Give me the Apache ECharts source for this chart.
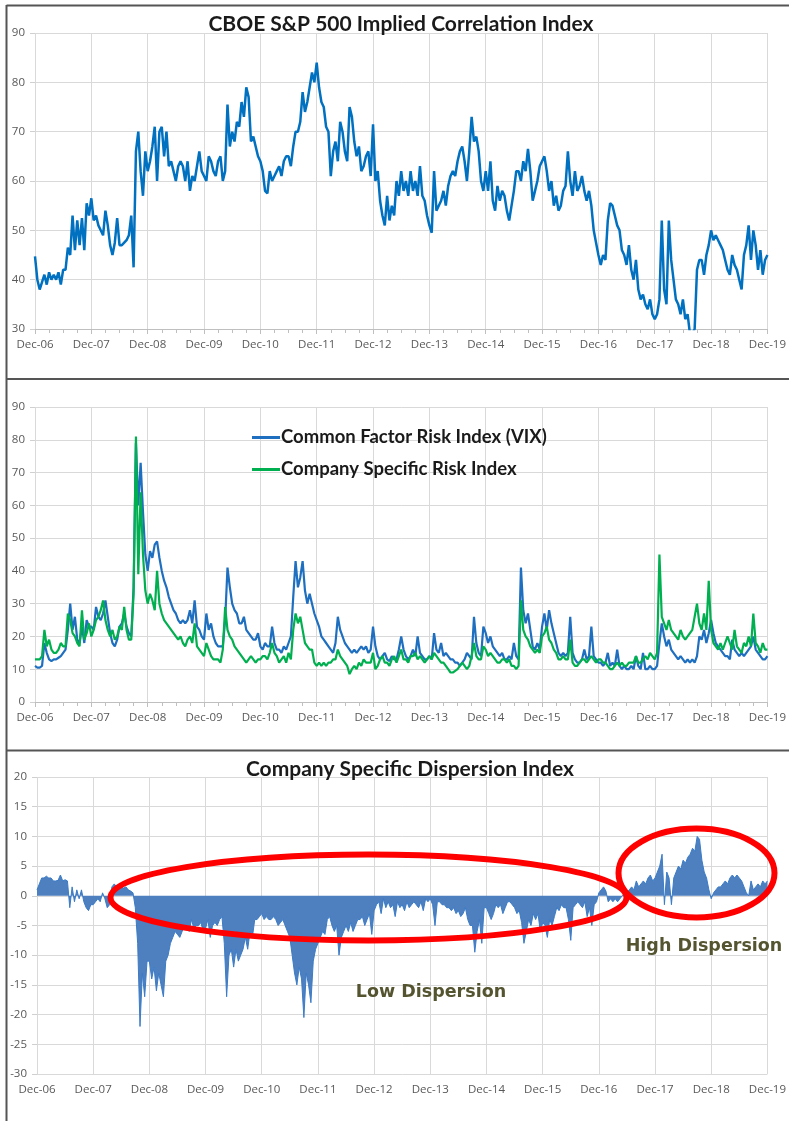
<!DOCTYPE html>
<html>
<head>
<meta charset="utf-8"/>
<script src="https://cdn.jsdelivr.net/npm/echarts/dist/echarts.min.js"></script>
<style>
html, body { margin: 0; padding: 0; background: #fff; }
#main { width: 789px; height: 1121px; }
</style>
</head>
<body>
<div id="main"></div>
<script>
// x axis: months since Dec-06, two readings per month
var xLabels = ['Dec-06', 'Dec-07', 'Dec-08', 'Dec-09', 'Dec-10', 'Dec-11', 'Dec-12',
               'Dec-13', 'Dec-14', 'Dec-15', 'Dec-16', 'Dec-17', 'Dec-18', 'Dec-19'];

// CBOE S&P 500 implied correlation
var corrVals = [
    44.7,40,38,39.5,41,39,41.5,40,41,40,41.5,39,42,42,46.5,45,53,46,52,47,52.5,46,55.5,53,
    56.5,52,53,51,50,49,54,51,47,45,47.5,52.5,47,47,47.5,48,49,53,42.5,66,70,62,57,66,
    62,64,67,71,60,70,71,65,70,63,64,62,60,63,64,63,60,64,58,61,60,63,66,62,
    61,60,65,64,62,61,64,65,60,62,75.5,67,70,68,72,71,76,73,79,77,68,69,67,65,
    64,62,58,57.5,62,60,61,62,63,61,64,65,65,63,67,70,70,72,78,74,76,79,82,80,
    84,79,76,75,71,70,61,66,68,64,72,70,66,64,75,73,68,65,67,62,63,65,66,61,
    71.5,60,62,56,53,51,57,52,55,53,60,57,62,58,60,57,62,58,60,57,63,57,56,53,
    51,49.5,62,54,55,56,58,55,59,61,62,61,64,66,67,64,60,66,73,68,69,66,60,58,
    62,58,64,56,54,59,56,58,57,54,52,55,58,62,62,60,64,62,66.5,62,56,58,60,63,
    64,65,62,58,60,55,57,54,55,58,59,66,60,57,62,58,59,61,58,56,58,55,50,47.5,
    45,43,45,44,52,55.5,55,53,51,50,46,45,43,47,42,40,44,38,36,37,35,34,36,33,
    32,33,36,52,38,35,52,44,40,36,35,33,36,32,33,29,29,30,42,44,44,41,45,47,
    50,48,49,48,47,46,44,42,41,45,43,42,40,38,45,47,51,44,50,47,42,46,41,44,
    45
];

// Common Factor Risk Index (VIX)
var vixVals = [
    11,10.5,10.5,11,18,15,13,12.5,13,13,13.5,14,
    15,16,22,30,22,26,19,18,23,18,25,23,
    23,22,29,26,25,27,31,26,21,18,17,19,
    23,24,27,23,21,20,35,79,60,73,58,45,
    40,46,44,48,49,44,40,37,35,32,30,28,
    27,25,24,25,24,25,28,24,31,23,22,20,
    19,27,22,24,20,18,17,17,17,25,41,35,
    30,28,27,24,24,26,22,21,20,19,19,21,
    17,16,18,17,17,23,18,16,16,15,17,16,
    18,20,32,43,35,38,43,34,30,33,30,27,
    25,23,20,19,18,17,16,15,18,26,22,20,
    18,17,16,15,16,15,16,17,16,17,15,16,
    23,17,14,13,14,15,13,12.5,14,13,13,16,
    20,16,14,13,14,16,14,20,15,14,13,13,
    14,13,21,16,15,18,14,15,14,13,13,12,
    12,11,12,13,15,14,13,26,18,15,14,23,
    21,18,20,17,16,15,14,15,13,13,14,13,
    18,14,13,41,28,24,27,22,17,16,18,16,
    23,27,22,28,24,21,18,15,14,15,14,15,
    26,15,13,12,12,13,16,13,14,23,14,13,
    12,12,11,12,15,11,12,11,16,11,10,11,
    10,10,11,10,14,11,10,15,10,10,11,10,
    10,11,18,24,20,17,19,16,15,14,13,14,
    13,12,13,12,13,12,14,20,19,22,18,21,
    25,21,18,17,16,15,14,14,13,19,16,15,
    14,15,14,15,16,17,20,16,15,14,13,13,
    14
];

// Company Specific Risk Index
var cspVals = [
    13,13,13,14,22,17,19,16,15,15,16,18,
    17,17,27,25,21,20,18,17,28,19,21,24,
    20,22,25,26,28,31,25,22,20,22,19,20,
    23,22,29,22,19,19,33,81,39,64,45,34,
    30,33,31,28,40,30,27,25,24,23,22,21,
    20,19,20,18,17,19,20,18,24,17,16,15,
    14,18,16,14,13,13,13,12,16,29,22,20,
    19,17,16,15,14,13,12,13,14,13,12,13,
    13,14,14,13,15,18,15,14,12,13,14,12,
    15,13,22,27,24,26,22,18,17,16,16,12,
    11,12,11,12,11,12,12,13,13,16,14,13,
    12,11,8.5,10,11,10,12,11,13,12,12,12,
    15,10,11,13,14,12,12,11,13,14,12,14,
    16,13,13,12,14,14,15,13,14,13,12,13,
    14,13,15,14,13,12,12,11,10,9,9,9.5,
    10,11,12,11,10,11,14,18,14,13,13,17,
    16,14,15,14,13,12,12,13,13,12,13,11,
    11,10,11,31,22,20,19,17,16,15,16,15,
    20,21,23,19,18,16,15,13,13,14,13,13,
    19,12,11,11,12,13,13,12,13,14,13,12,
    13,13,12,12,11,10,10,11,12,11,12,11,
    11,12,12,12,14,12,12,13,14,13,15,14,
    13,15,45,26,24,22,25,22,21,20,19,22,
    20,19,20,21,22,26,30,24,22,27,22,37,
    22,18,17,16,18,16,18,20,18,16,22,17,
    16,15,18,17,20,17,27,18,17,15,18,16,
    16
];

// Company Specific Dispersion Index
var dispVals = [
    1,2,3,3,3.3,3,3,2.5,2.5,2.6,3.5,2.5,
    2.7,2.5,-2,1.5,-1,1,-0.5,1,-1,-2,-2.5,-1.5,
    -1.5,-1,-0.5,-1,0.5,-0.5,-2,-1.5,1.5,2,1.5,1.8,
    1.5,1.3,1.5,1,0.8,0.5,-2,-8,-22,-13,-17,-11,
    -11,-14,-12,-16,-13,-15,-17,-11,-10,-8,-7,-6,
    -6.5,-7,-6,-5,-5.5,-6,-4,-5.5,-5,-5,-4.5,-6,
    -5.5,-4,-7,-5,-4.5,-5,-4,-3.5,-8,-17,-10,-9,
    -12,-9,-11,-10,-9,-7,-9,-6,-7,-4,-4,-3.5,
    -3,-4,-3.5,-4,-4,-3.5,-4,-5,-4.5,-4,-5,-6,
    -7,-10,-13,-15,-12,-14,-20.5,-13,-15,-18,-11,-9,
    -8,-7,-6,-6.5,-4,-3.5,-5,-6,-5,-10,-7,-6,
    -5,-6,-4.5,-6,-5,-4,-4,-3.5,-5,-4,-3,-6.5,
    -2.5,-1.5,-1,-3,-0.5,-2,-1,-2,-1.5,-3.5,-1,-2,
    -1.5,-2.5,-1,-2,-1.5,-1,-1.5,-2,-1,-2.5,-0.5,-1,
    -0.5,-1.5,-5,-1,-1,-1.5,-1.5,-2,-2,-2.5,-2,-3,
    -2.5,-3.5,-3,-2,-4,-5,-5,-9.5,-6,-4,-8,-2,
    -2,-3,-4,-3,-1.5,-2,-1.5,-3,-2,-1,-1,-1.5,
    -2,-3,-2.5,-4.5,-8,-6,-4,-5,-3,-4,-3,-6,
    -4.5,-5,-7,-4,-5,-3.5,-2,-2.5,-1.5,-2,-2,-4,
    -7.5,-2,-1.5,-1,-1.5,-2,-1,-3.5,-2,-5,-1.5,-1,
    0.5,1,1.5,0.8,-1,-0.5,-1,-0.5,-1,-0.5,0,0.5,
    0.5,1,1.5,1,2.5,1.5,2,2.5,2,3,3.5,2.5,
    3,4,5,7,-1.5,4,3,-1.5,3,4,5,4.5,
    6,5.5,6.5,7,8,7.5,10,9.5,6,4,3,1,
    -0.5,0.5,1,1.5,1.5,2,2.5,2,3,3.5,3,3.5,
    3,2.5,1.5,0.5,0,2.5,1,1.5,2,1.5,2.5,2,
    2.5
];

function toPairs(vals) {
    return vals.map(function (v, i) { return [i / 2, v]; });
}

var labelFont = {color: '#595959', fontSize: 11.5, fontFamily: 'Open Sans'};
var gridColor = '#d9d9d9';

function makeX(idx, withTicks) {
    return {
        type: 'value', gridIndex: idx, min: 0, max: 156, interval: 12,
        axisLine: {show: true, lineStyle: {color: withTicks ? '#bfbfbf' : gridColor}},
        axisTick: {show: withTicks, length: 5, lineStyle: {color: '#bfbfbf'}},
        minorTick: {show: withTicks, splitNumber: 4, length: 4, lineStyle: {color: '#bfbfbf'}},
        splitLine: {show: true, lineStyle: {color: gridColor}},
        axisLabel: Object.assign({margin: 10, formatter: function (v) { return xLabels[Math.round(v / 12)]; }}, labelFont)
    };
}

function makeY(idx, min, max, step) {
    return {
        type: 'value', gridIndex: idx, min: min, max: max, interval: step,
        axisLine: {show: false},
        axisTick: {show: true, length: 5, lineStyle: {color: '#d0d0d0'}},
        splitLine: {show: true, lineStyle: {color: gridColor}},
        axisLabel: Object.assign({margin: 10}, labelFont)
    };
}

var myChart = echarts.init(document.getElementById('main'));

var option = {
    animation: false,
    backgroundColor: '#fff',
    grid: [
        {left: 35, top: 33, width: 741, height: 296},
        {left: 35, top: 407, width: 742, height: 295},
        {left: 37, top: 777, width: 733, height: 297}
    ],
    xAxis: [makeX(0, true), makeX(1, true), makeX(2, false)],
    yAxis: [makeY(0, 30, 90, 10), makeY(1, 0, 90, 10), makeY(2, -30, 20, 5)],
    legend: {
        data: ['Common Factor Risk Index (VIX)', 'Company Specific Risk Index'],
        orient: 'vertical', left: 252, top: 428, padding: 0,
        icon: 'rect', itemWidth: 28, itemHeight: 3, itemGap: 13,
        textStyle: {fontFamily: 'Lato', fontWeight: 'bold', fontSize: 18.5, color: '#1a1a1a', padding: [0, 0, 0, -4]}
    },
    series: [
        {
            name: 'Implied Correlation', type: 'line', xAxisIndex: 0, yAxisIndex: 0,
            data: toPairs(corrVals), showSymbol: false,
            lineStyle: {color: '#0070c0', width: 2.5}, itemStyle: {color: '#0070c0'}
        },
        {
            name: 'Common Factor Risk Index (VIX)', type: 'line', xAxisIndex: 1, yAxisIndex: 1,
            data: toPairs(vixVals), showSymbol: false,
            lineStyle: {color: '#1f6fc0', width: 2.2}, itemStyle: {color: '#1f6fc0'}
        },
        {
            name: 'Company Specific Risk Index', type: 'line', xAxisIndex: 1, yAxisIndex: 1,
            data: toPairs(cspVals), showSymbol: false,
            lineStyle: {color: '#00b050', width: 2.2}, itemStyle: {color: '#00b050'}
        },
        {
            name: 'Dispersion', type: 'line', xAxisIndex: 2, yAxisIndex: 2,
            data: toPairs(dispVals), showSymbol: false,
            lineStyle: {color: '#3a7cc8', width: 1}, itemStyle: {color: '#3a7cc8'},
            areaStyle: {color: '#4e7fbe', opacity: 1}
        }
    ],
    graphic: [
        // panel frames
        {type: 'line', shape: {x1: 6.5, y1: 5.5, x2: 789, y2: 5.5}, style: {stroke: '#555', lineWidth: 2}},
        {type: 'line', shape: {x1: 6.5, y1: 5, x2: 6.5, y2: 1121}, style: {stroke: '#555', lineWidth: 2}},
        {type: 'line', shape: {x1: 6, y1: 379, x2: 789, y2: 379}, style: {stroke: '#555', lineWidth: 2}},
        {type: 'line', shape: {x1: 6, y1: 750.5, x2: 789, y2: 750.5}, style: {stroke: '#555', lineWidth: 2}},
        // titles
        {type: 'text', x: 401, y: 24, z: 50, style: {text: 'CBOE S&P 500 Implied Correlation Index',
            font: 'bold 21px Lato', fill: '#1a1a1a', textAlign: 'center', align: 'center',
            textVerticalAlign: 'middle', verticalAlign: 'middle'}},
        {type: 'text', x: 410, y: 769, z: 50, style: {text: 'Company Specific Dispersion Index',
            font: 'bold 21px Lato', fill: '#1a1a1a', textAlign: 'center', align: 'center',
            textVerticalAlign: 'middle', verticalAlign: 'middle'}},
        // red highlight ellipses
        {type: 'ellipse', z: 60, shape: {cx: 368.5, cy: 897.5, rx: 258, ry: 43},
            style: {fill: 'none', stroke: '#ff0000', lineWidth: 6}},
        {type: 'ellipse', z: 60, shape: {cx: 696.5, cy: 873, rx: 78, ry: 44.5},
            style: {fill: 'none', stroke: '#ff0000', lineWidth: 6}},
        {type: 'text', x: 431, y: 992, z: 50, style: {text: 'Low Dispersion',
            font: 'bold 17.5px "DejaVu Sans"', fill: '#545430', textAlign: 'center', align: 'center',
            textVerticalAlign: 'middle', verticalAlign: 'middle'}},
        {type: 'text', x: 704, y: 946, z: 50, style: {text: 'High Dispersion',
            font: 'bold 17.5px "DejaVu Sans"', fill: '#545430', textAlign: 'center', align: 'center',
            textVerticalAlign: 'middle', verticalAlign: 'middle'}}
    ]
};

myChart.setOption(option);
</script>
</body>
</html>
